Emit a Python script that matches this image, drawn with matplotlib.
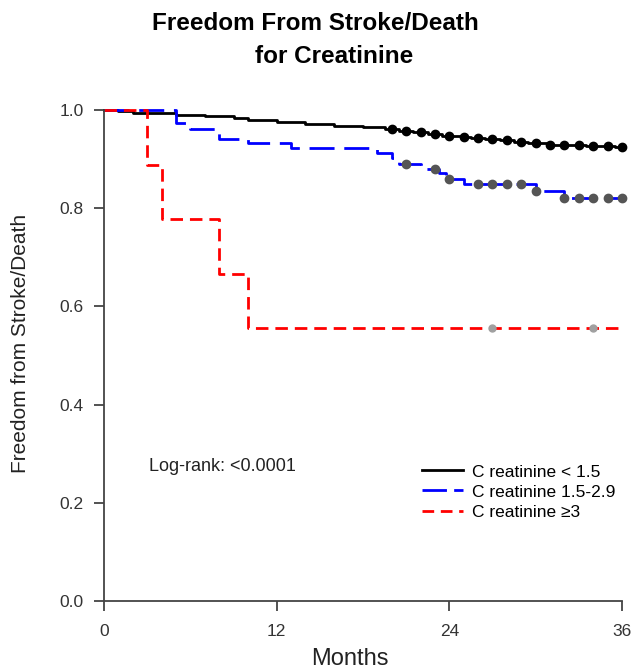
import matplotlib
matplotlib.use("Agg")
import matplotlib.pyplot as plt
from matplotlib.lines import Line2D
import numpy as np

plt.rcParams['font.family'] = ['Liberation Sans', 'DejaVu Sans']

# Kaplan-Meier step data (time in months, survival)
black_t = [0, 1.0, 2.0, 5.0, 7.0, 9.0, 10.0, 12.0, 14.0, 16.0, 18.0, 19.5, 20.5, 21.5, 22.5,
           23.5, 25.0, 25.5, 26.5, 27.5, 28.5, 29.5, 31.0, 32.5, 33.5, 35.5, 36]
black_s = [1.0, 0.998, 0.993, 0.990, 0.987, 0.983, 0.980, 0.975, 0.972, 0.968, 0.965, 0.961,
           0.958, 0.955, 0.952, 0.948, 0.946, 0.943, 0.941, 0.938, 0.935, 0.933, 0.929, 0.928,
           0.927, 0.925, 0.925]
black_cens = [20, 21, 22, 23, 24, 25, 26, 27, 28, 29, 30, 31, 32, 33, 34, 35, 36]

blue_t = [0, 5.0, 6.0, 8.0, 10.0, 13.0, 19.0, 20.0, 20.5, 22.0, 23.3, 23.8, 25.0, 30.0, 32.0, 36]
blue_s = [1.0, 0.973, 0.961, 0.941, 0.932, 0.922, 0.913, 0.903, 0.891, 0.880, 0.871, 0.859,
          0.849, 0.836, 0.820, 0.820]
blue_cens = [21, 23, 24, 26, 27, 28, 29, 30, 32, 33, 34, 35, 36]

red_t = [0, 3.0, 4.0, 8.0, 10.0, 36]
red_s = [1.0, 0.889, 0.778, 0.667, 0.556, 0.556]
red_cens = [27, 34]

labels = ["C reatinine < 1.5", "C reatinine 1.5-2.9", "C reatinine \u22653"]
xticks = [0, 12, 24, 36]
yticks = [0.0, 0.2, 0.4, 0.6, 0.8, 1.0]


def surv_at(ts, ss, x):
    idx = np.searchsorted(ts, x, side='right') - 1
    return ss[idx]


W, H = 631, 672
fig = plt.figure(figsize=(W / 100, H / 100), dpi=100)
ax = fig.add_axes([104/W, 1-601/H, (622-104)/W, (601-110)/H])

ax.step(black_t, black_s, where='post', color='black', lw=2, clip_on=False)
ax.step(blue_t, blue_s, where='post', color='#0000ff', lw=2, dashes=(9, 3.5), clip_on=False)
ax.step(red_t, red_s, where='post', color='#ff0000', lw=2, dashes=(4.5, 2.5), clip_on=False)

ax.plot(black_cens, [surv_at(black_t, black_s, c) for c in black_cens], 'o', color='black',
        ms=6, clip_on=False, zorder=5)
ax.plot(blue_cens, [surv_at(blue_t, blue_s, c) for c in blue_cens], 'o', color='#555555',
        ms=6, clip_on=False, zorder=5)
ax.plot(red_cens, [surv_at(red_t, red_s, c) for c in red_cens], 'o', color='#a0a0a0',
        ms=5, clip_on=False, zorder=5)

ax.set_xlim(0, 36)
ax.set_ylim(0, 1.0)
ax.set_xticks(xticks)
ax.set_yticks(yticks)
ax.set_yticklabels([f"{v:.1f}" for v in yticks])
ax.spines['top'].set_visible(False)
ax.spines['right'].set_visible(False)
for s in ['left', 'bottom']:
    ax.spines[s].set_color('#444444')
    ax.spines[s].set_linewidth(1.3)
ax.tick_params(direction='out', length=7.5, width=1.3, color='#444444', labelsize=12.5,
               labelcolor='#333333')
ax.tick_params(axis='y', pad=7)
ax.tick_params(axis='x', pad=9)

ax.set_xlabel("Months", fontsize=17, color='#222222', va='baseline')
ax.xaxis.set_label_coords(350/W, 1-665/H, transform=fig.transFigure)
ax.set_ylabel("Freedom from Stroke/Death", fontsize=15, color='#222222', va='center')
ax.yaxis.set_label_coords(21/W, 1-343/H, transform=fig.transFigure)

fig.text(315/W, 1-30/H, "Freedom From Stroke/Death", ha='center', va='baseline',
         fontsize=17.5, fontweight='bold')
fig.text(334/W, 1-63/H, "for Creatinine", ha='center', va='baseline',
         fontsize=17.5, fontweight='bold')

ax.text(3.1, 0.265, "Log-rank: <0.0001", fontsize=13, color='#222222')

handles = [
    Line2D([], [], color='black', lw=2),
    Line2D([], [], color='#0000ff', lw=2, dashes=(8.8, 2.6)),
    Line2D([], [], color='#ff0000', lw=2, dashes=(4.2, 2.4)),
]
ax.legend(handles, labels, loc='center left', bbox_to_anchor=(422/W, 1-492/H),
          bbox_transform=fig.transFigure, frameon=False, borderpad=0, borderaxespad=0,
          fontsize=12.5, handlelength=2.36, labelspacing=0.28, handletextpad=0.5)

fig.savefig("out.png", dpi=100)
